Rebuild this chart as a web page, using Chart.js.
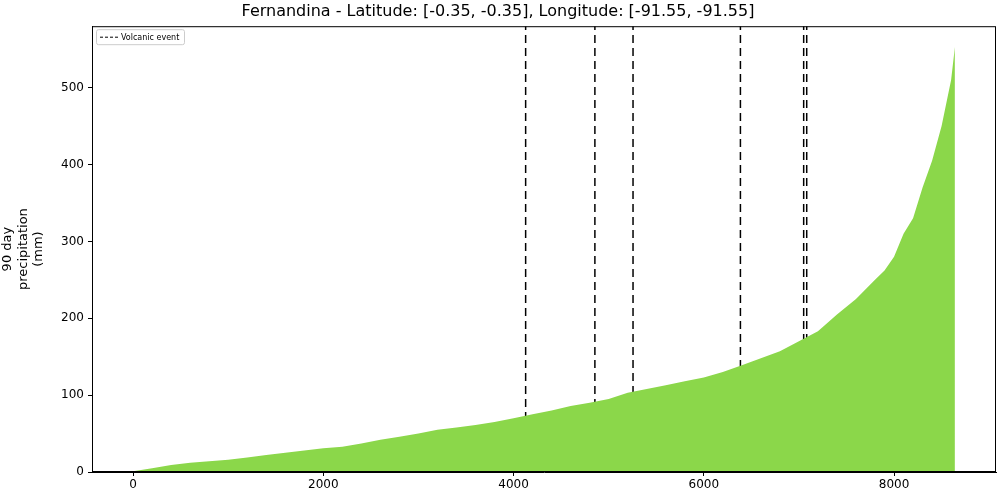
<!DOCTYPE html>
<html><head><script src="https://cdn.jsdelivr.net/npm/chart.js@4"></script>
<style>body{margin:0;background:#fff}#w{width:1000px;height:500px}</style></head>
<body><div id="w"><canvas id="c"></canvas></div>
<script>
const ranks = [0,100,200,400,600,800,1000,1200,1400,1600,1800,2000,2200,2400,2600,2800,3000,3200,3400,3600,3800,4000,4200,4400,4600,4800,5000,5200,5400,5600,5800,6000,6200,6400,6600,6800,7000,7200,7400,7600,7800,7900,8000,8100,8200,8300,8400,8500,8600,8640];
const precip = [1,3,5,9,12,14,16,19,22,25,28,31,33,37,42,46,50,55,58,61,65,70,75,80,86,90,95,103,108,113,118,123,130,139,148,157,170,183,205,225,250,262,280,310,330,370,405,450,510,553];
const events = [4127,4855,5256,6385,7050,7082];
const xTicks = [0,2000,4000,6000,8000];
const yTicks = [0,100,200,300,400,500];
const F = "DejaVu Sans";
Chart.defaults.font.family = F;
Chart.defaults.color = '#000';
const ds = [{data: ranks.map((r,i)=>({x:r,y:precip[i]})).concat([{x:8640,y:0}]), fill:'origin', backgroundColor:'#8bd74a', borderColor:'#8bd74a', borderWidth:0, pointRadius:0, tension:0}];
events.forEach(e=>ds.push({data:[{x:e,y:0},{x:e,y:580}], borderColor:'#000', borderWidth:1.5, borderDash:[8,5], pointRadius:0, fill:false}));
const legendPlugin = {id:'lg', afterDraw(ch){const a=ch.chartArea,c=ch.ctx;c.save();
 c.strokeStyle='#000';c.lineWidth=1;c.strokeRect(a.left+0.5,a.top+0.5,a.right-a.left-1,a.bottom-a.top-1);
 c.fillStyle='#fff';c.strokeStyle='#ccc';c.beginPath();c.roundRect(a.left+4.5,a.top+3.5,88,15,2);c.fill();c.stroke();
 c.strokeStyle='#000';c.setLineDash([3,2]);c.beginPath();c.moveTo(a.left+8,a.top+11);c.lineTo(a.left+26,a.top+11);c.stroke();
 c.setLineDash([]);c.fillStyle='#000';c.font='8px '+F;c.textBaseline='middle';c.fillText('Volcanic event',a.left+29,a.top+11.5);c.restore();}};
const grid = {drawOnChartArea:false,drawTicks:true,tickLength:4,color:'#000'};
new Chart(document.getElementById('c'),{type:'line',data:{datasets:ds},plugins:[legendPlugin],
options:{responsive:true,maintainAspectRatio:false,animation:false,
layout:{padding:{right:4}},
plugins:{legend:{display:false},tooltip:{enabled:false},title:{display:true,text:'Fernandina - Latitude: [-0.35, -0.35], Longitude: [-91.55, -91.55]',font:{size:16,weight:'normal'},padding:{top:2,bottom:5}}},
scales:{x:{type:'linear',min:-432,max:9072,grid:grid,border:{color:'#000'},
 afterBuildTicks(s){s.ticks=xTicks.map(v=>({value:v}));},ticks:{font:{size:12},maxRotation:0,padding:2,callback:v=>v},afterFit(s){s.height=28;}},
 y:{min:0,max:580,grid:grid,border:{color:'#000'},afterBuildTicks(s){s.ticks=yTicks.map(v=>({value:v}));},ticks:{font:{size:12},padding:4},
 title:{display:true,text:['90 day','precipitation','(mm)'],font:{size:13},padding:0},afterFit(s){s.width=92;}}}}});
</script></body></html>
